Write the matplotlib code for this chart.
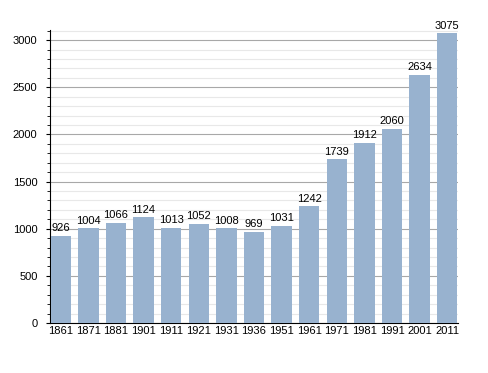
import matplotlib.pyplot as plt
import numpy as np

years = ["1861", "1871", "1881", "1901", "1911", "1921", "1931", "1936",
         "1951", "1961", "1971", "1981", "1991", "2001", "2011"]
population = [926, 1004, 1066, 1124, 1013, 1052, 1008, 969,
              1031, 1242, 1739, 1912, 2060, 2634, 3075]

plt.rcParams["font.family"] = ["Liberation Sans", "DejaVu Sans"]

fig = plt.figure(figsize=(4.88, 3.73), dpi=100)
ax = fig.add_axes([0.1025, 0.134, 0.836, 0.786])

x = np.arange(len(years))
ax.bar(x, population, width=0.74, color="#98b2cf", zorder=3)

# value labels above each bar
for xi, v in zip(x, population):
    ax.text(xi, v + 25, str(v), ha="center", va="bottom", fontsize=8, zorder=4)

ax.set_ylim(0, 3110)
ax.set_xlim(-0.39, len(years) - 0.61)
ax.set_yticks(np.arange(0, 3001, 500))
ax.set_yticks(np.arange(0, 3101, 100), minor=True)
ax.set_xticks(x)
ax.set_xticklabels(years)

ax.grid(axis="y", which="major", color="#a8a8a8", linewidth=0.8, zorder=0)
ax.grid(axis="y", which="minor", color="#e8e8e8", linewidth=0.8, zorder=0)

for s in ["top", "right"]:
    ax.spines[s].set_visible(False)

ax.tick_params(axis="y", which="major", length=3, labelsize=8, pad=6)
ax.tick_params(axis="y", which="minor", length=2)
ax.tick_params(axis="x", length=0, labelsize=8, pad=2)

fig.savefig("out.png", dpi=100)
